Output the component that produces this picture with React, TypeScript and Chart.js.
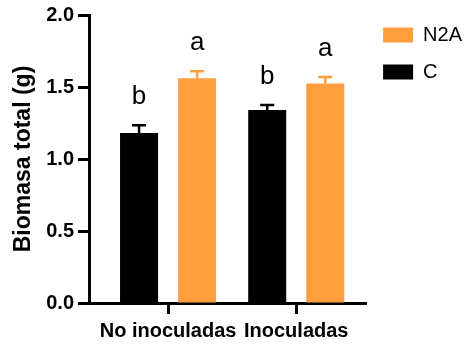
import React, { useEffect, useRef } from 'react';
import { Chart, registerables } from 'chart.js';

Chart.register(...registerables);

const categories = ['No inoculadas', 'Inoculadas'];
const seriesC = [1.18, 1.34];
const errC = [0.055, 0.035];
const seriesN2A = [1.56, 1.525];
const errN2A = [0.05, 0.045];
const lettersC = ['b', 'b'];
const lettersN2A = ['a', 'a'];
const yTicks = [0, 0.5, 1.0, 1.5, 2.0];

const FONT = "'Liberation Sans', Arial, Helvetica, sans-serif";
const ORANGE = '#FF9E3D';
const BLACK = '#000000';

const errorPlugin = {
  id: 'errAndLetters',
  afterDatasetsDraw(chart: any) {
    const ctx = chart.ctx;
    const yScale = chart.scales.y;
    chart.data.datasets.forEach((ds: any, di: number) => {
      const meta = chart.getDatasetMeta(di);
      meta.data.forEach((bar: any, i: number) => {
        const v = ds.data[i].y;
        const e = ds.errors[i];
        const top = yScale.getPixelForValue(v + e);
        const bx = bar.x;
        const by = bar.y;
        ctx.save();
        ctx.strokeStyle = ds.backgroundColor;
        ctx.lineWidth = 2.5;
        ctx.beginPath();
        ctx.moveTo(bx, by);
        ctx.lineTo(bx, top);
        ctx.moveTo(bx - 7, top);
        ctx.lineTo(bx + 7, top);
        ctx.stroke();
        ctx.fillStyle = '#000';
        ctx.font = `26px ${FONT}`;
        ctx.textAlign = 'center';
        ctx.textBaseline = 'alphabetic';
        ctx.fillText(ds.letters[i], bx, top - 21);
        ctx.restore();
      });
    });
  },
};

export default function App() {
  const ref = useRef<HTMLCanvasElement | null>(null);

  useEffect(() => {
    if (!ref.current) return;
    const axisGrid = {
      drawOnChartArea: false,
      drawTicks: true,
      tickLength: 11,
      tickWidth: 3,
      tickColor: '#000',
      offset: false,
    };
    const axisBorder = { display: true, width: 3, color: '#000' };
    const chart = new Chart(ref.current, {
      type: 'bar',
      data: {
        datasets: [
          {
            label: 'C',
            data: seriesC.map((v, i) => ({ x: i, y: v })),
            backgroundColor: BLACK,
            borderWidth: 0,
            categoryPercentage: 0.906,
            barPercentage: 0.655,
            errors: errC,
            letters: lettersC,
          } as any,
          {
            label: 'N2A',
            data: seriesN2A.map((v, i) => ({ x: i, y: v })),
            backgroundColor: ORANGE,
            borderWidth: 0,
            categoryPercentage: 0.906,
            barPercentage: 0.655,
            errors: errN2A,
            letters: lettersN2A,
          } as any,
        ],
      },
      options: {
        responsive: false,
        animation: false,
        layout: { padding: { top: 8, right: 4, bottom: 0, left: 0 } },
        plugins: {
          legend: {
            position: 'right',
            align: 'start',
            reverse: true,
            labels: {
              boxWidth: 30,
              boxHeight: 15,
              padding: 17,
              color: '#000',
              font: { family: FONT, size: 20 },
            },
          },
          tooltip: { enabled: false },
        },
        scales: {
          x: {
            type: 'linear',
            min: -0.617,
            max: 1.545,
            offset: false,
            afterBuildTicks: (s: any) => {
              s.ticks = categories.map((_, i) => ({ value: i }));
            },
            afterFit: (s: any) => {
              s.height = 41;
            },
            ticks: {
              callback: (v: any) => categories[Math.round(Number(v))] ?? '',
              font: { family: FONT, size: 20, weight: 'bold' },
              color: '#000',
              padding: 5,
              maxRotation: 0,
              autoSkip: false,
            },
            grid: axisGrid,
            border: axisBorder,
          },
          y: {
            type: 'linear',
            min: 0,
            max: 2,
            afterBuildTicks: (s: any) => {
              s.ticks = yTicks.map((v) => ({ value: v }));
            },
            afterFit: (s: any) => {
              s.width = 89;
              s.paddingTop = 15;
            },
            ticks: {
              callback: (v: any) => Number(v).toFixed(1),
              font: { family: FONT, size: 20, weight: 'bold' },
              color: '#000',
              padding: 4,
            },
            title: {
              display: true,
              text: 'Biomasa total (g)',
              font: { family: FONT, size: 23, weight: 'bold' },
              color: '#000',
              padding: { top: 10, bottom: 0 },
            },
            grid: axisGrid,
            border: axisBorder,
          },
        },
      } as any,
      plugins: [errorPlugin],
    });
    return () => chart.destroy();
  }, []);

  return (
    <div style={{ position: 'absolute', left: 0, top: 0, width: 476, height: 344, background: '#fff' }}>
      <canvas ref={ref} width={476} height={344} style={{ display: 'block' }} />
    </div>
  );
}
